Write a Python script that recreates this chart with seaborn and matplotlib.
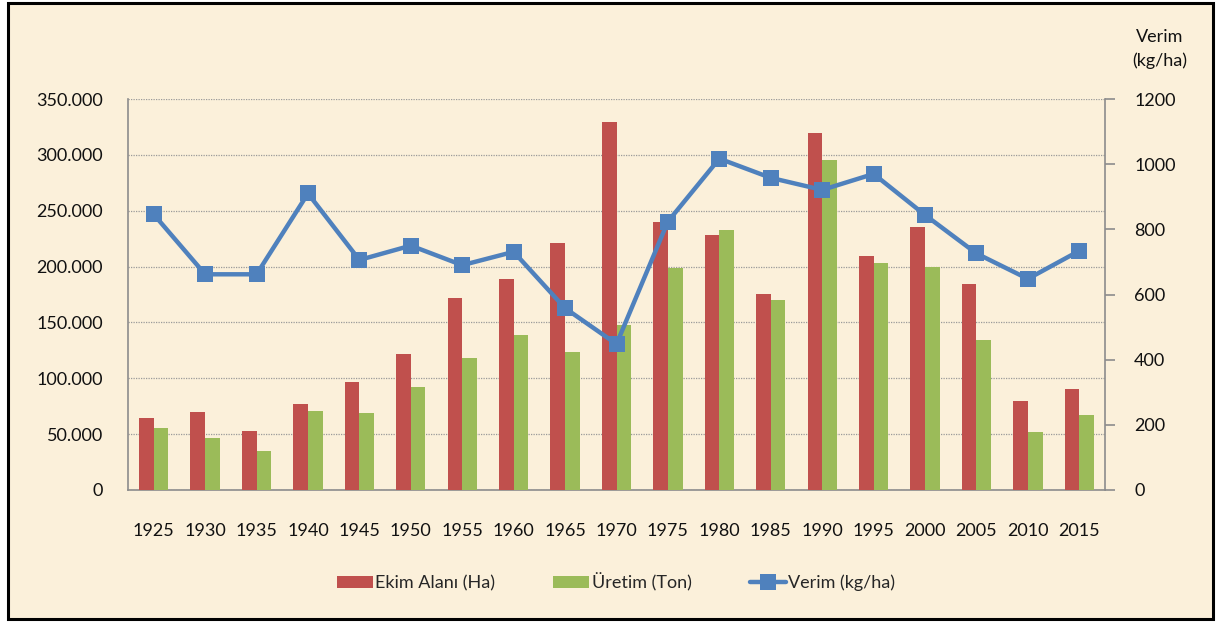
import numpy as np
import pandas as pd
import matplotlib
matplotlib.use("Agg")
import matplotlib.pyplot as plt
from matplotlib.ticker import FuncFormatter, MultipleLocator
from matplotlib.patches import Rectangle
import seaborn as sns

years = ["1925", "1930", "1935", "1940", "1945", "1950", "1955", "1960", "1965", "1970",
         "1975", "1980", "1985", "1990", "1995", "2000", "2005", "2010", "2015"]
ekim_alani = [64200, 69500, 52800, 76700, 96900, 122000, 172100, 188800, 221100, 329600,
              240100, 228200, 175700, 319200, 209100, 235400, 184100, 79900, 90700]
uretim = [55200, 46800, 34900, 70700, 68600, 92200, 118400, 138700, 123200, 147700,
          199000, 233000, 169800, 295100, 203200, 199300, 134000, 51600, 67100]
verim = [846, 662, 662, 910, 706, 750, 690, 731, 558, 448,
         824, 1017, 958, 921, 970, 844, 726, 648, 734]

label_ekim = "Ekim Alanı (Ha)"
label_uretim = "Üretim (Ton)"
label_verim = "Verim (kg/ha)"

RED = "#C0504D"
GREEN = "#9BBB59"
BLUE = "#4F81BD"
BG = "#FBF0DA"
FS = 13

sns.set_theme(style="white")
plt.rcParams["font.family"] = ["Lato", "DejaVu Sans"]
plt.rcParams["font.size"] = FS

df = pd.DataFrame({
    "Yıl": years * 2,
    "Değer": ekim_alani + uretim,
    "Seri": [label_ekim] * len(years) + [label_uretim] * len(years),
})

fig = plt.figure(figsize=(12.17, 6.22), dpi=100)
fig.patch.set_facecolor("white")
frame = Rectangle((8 / 1217, 3 / 622), 1205 / 1217, 616 / 622, transform=fig.transFigure,
                  facecolor=BG, edgecolor="black", linewidth=2.2, zorder=-10)
fig.patches.append(frame)

ax = fig.add_axes([128 / 1217, 1 - 490 / 622, (1105 - 128) / 1217, (490 - 99) / 622])
ax.set_facecolor("none")

sns.barplot(data=df, x="Yıl", y="Değer", hue="Seri", palette=[RED, GREEN],
            width=0.57, gap=0, saturation=1, linewidth=0, edgecolor="none",
            ax=ax, legend=True, zorder=3)
bar_handles = list(ax.get_legend().legend_handles)
bar_labels = [t.get_text() for t in ax.get_legend().get_texts()]
ax.get_legend().remove()

ax.set_ylim(0, 350000)
ax.yaxis.set_major_locator(MultipleLocator(50000))
ax.yaxis.set_major_formatter(FuncFormatter(lambda v, p: f"{int(v):,}".replace(",", ".")))
ax.grid(axis="y", color="#9A9A9A", linestyle=(0, (1, 1)), linewidth=0.9, zorder=0)
ax.set_axisbelow(True)
ax.set_xlabel("")
ax.set_ylabel("")
for s in ["top", "right"]:
    ax.spines[s].set_visible(False)
for s in ["left", "bottom"]:
    ax.spines[s].set_color("#8C8C8C")
    ax.spines[s].set_linewidth(1.2)
ax.tick_params(axis="y", length=0, pad=18, labelsize=FS, labelcolor="#111111")
ax.tick_params(axis="x", length=0, pad=24, labelsize=FS, labelcolor="#111111")

ax2 = ax.twinx()
sns.lineplot(x=np.arange(len(years)), y=verim, ax=ax2, color=BLUE, linewidth=3.2,
             marker="s", markersize=11, markeredgewidth=0, label=label_verim, zorder=5)
line_handles, line_labels = ax2.get_legend_handles_labels()
if ax2.get_legend() is not None:
    ax2.get_legend().remove()
ax2.set_ylim(0, 1200)
ax2.yaxis.set_major_locator(MultipleLocator(200))
ax2.set_xlim(-0.5, len(years) - 0.5)
ax.set_xlim(-0.5, len(years) - 0.5)
for s in ["top", "left", "bottom"]:
    ax2.spines[s].set_visible(False)
ax2.spines["right"].set_color("#8C8C8C")
ax2.spines["right"].set_linewidth(1.2)
ax2.tick_params(axis="y", length=7, width=1.2, color="#8C8C8C", direction="out",
                pad=14, labelsize=FS, labelcolor="#111111")
ax2.set_ylabel("")
ax2.grid(False)

fig.text(1160 / 1217, 1 - 49 / 622, "Verim\n(kg/ha)", ha="center", va="center",
         fontsize=FS, color="#111111", linespacing=1.5)

fig.legend(bar_handles + line_handles, bar_labels + line_labels, loc="center",
           bbox_to_anchor=(616 / 1217, 1 - 582 / 622), ncol=3, frameon=False,
           fontsize=FS, handlelength=2.0, handleheight=0.65, handletextpad=0.15,
           columnspacing=3.2)

fig.savefig("out.png", dpi=100)
